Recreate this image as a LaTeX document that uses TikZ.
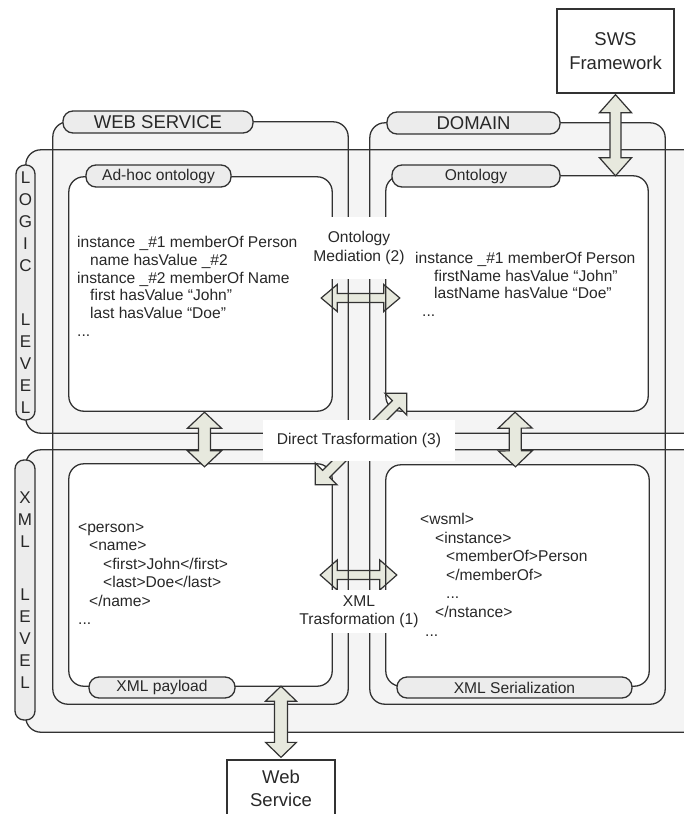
\documentclass[tikz,border=0pt]{standalone}
\usepackage{fontspec}
\setmainfont{Liberation Sans}
\usetikzlibrary{calc,positioning}
\definecolor{linegray}{RGB}{50,50,50}
\definecolor{bandfill}{RGB}{244,244,244}
\definecolor{tabfill}{RGB}{236,236,236}
\definecolor{arrowfill}{RGB}{231,233,222}
\definecolor{txtgray}{RGB}{40,40,40}
\tikzstyle{zone} = [rectangle, rounded corners=15, fill=bandfill, inner sep=0]
\tikzstyle{panel} = [rectangle, rounded corners=15, fill=white, inner sep=0]
\tikzstyle{rim} = [draw=linegray, line width=1.3pt, rounded corners=15]
\tikzstyle{tabbox} = [rectangle, rounded corners=10, draw=linegray, line width=1.3pt, fill=tabfill, inner sep=0, text=txtgray, font=\fontsize{15.6}{18}\selectfont]
\tikzstyle{bigtab} = [tabbox, font=\fontsize{18.5}{22}\selectfont]
\tikzstyle{lvltab} = [tabbox, rounded corners=9, align=center, font=\fontsize{17}{22}\selectfont]
\tikzstyle{ext} = [rectangle, draw=linegray, line width=1.3pt, fill=white, inner sep=0, align=center, text=txtgray, font=\fontsize{18.5}{24}\selectfont]
\tikzstyle{codetext} = [anchor=north west, inner sep=0, align=left, text=txtgray]
\tikzstyle{midtext} = [fill=white, inner sep=0, align=center, text=txtgray, font=\fontsize{15.6}{18.5}\selectfont]
\tikzstyle{blockarrow} = [draw=linegray, line width=1.2pt, fill=arrowfill, line join=miter]
% double block arrow: from, to, head length, head half width, shaft half width
\newcommand{\dblarrow}[5]{%
  \coordinate (ha) at ($(#1)!#3!(#2)$);
  \coordinate (hb) at ($(#2)!#3!(#1)$);
  \filldraw[blockarrow] (#1) -- ($(ha)!#4!90:(#2)$) -- ($(ha)!#5!90:(#2)$)
    -- ($(hb)!#5!-90:(#1)$) -- ($(hb)!#4!-90:(#1)$) -- (#2)
    -- ($(hb)!#4!90:(#1)$) -- ($(hb)!#5!90:(#1)$)
    -- ($(ha)!#5!-90:(#2)$) -- ($(ha)!#4!-90:(#2)$) -- cycle;}
% single block arrow: tail, tip, head length, head half width, shaft half width
\newcommand{\onearrow}[5]{%
  \coordinate (hc) at ($(#2)!#3!(#1)$);
  \filldraw[blockarrow] (#2) -- ($(hc)!#4!90:(#1)$) -- ($(hc)!#5!90:(#1)$)
    -- ($(#1)!#5!-90:(#2)$) -- ($(#1)!#5!90:(#2)$)
    -- ($(hc)!#5!-90:(#1)$) -- ($(hc)!#4!-90:(#1)$) -- cycle;}

\begin{document}
\begin{tikzpicture}[x=1pt,y=-1pt]
\useasboundingbox (0,0) rectangle (683,814);
% backgrounds
\draw (363,291.5) node (logic) [zone, minimum width=674, minimum height=283] {};
\draw (363,591) node (xmllvl) [zone, minimum width=674, minimum height=282] {};
\draw (200.5,413) node (ws) [zone, minimum width=295, minimum height=582] {};
\draw (517.5,413.5) node (dom) [zone, minimum width=295, minimum height=581] {};
\draw (200.5,294) node (adhoc) [panel, minimum width=263, minimum height=234] {};
\draw (517,293.5) node (onto) [panel, minimum width=262, minimum height=235] {};
\draw (200.5,575) node (payload) [panel, minimum width=263, minimum height=222] {};
\draw (517.5,575.5) node (serial) [panel, minimum width=263, minimum height=221] {};
\draw (615.5,51) node (sws) [ext, minimum width=117, minimum height=84] {SWS\\Framework};
\draw (281,788) node (websvc) [ext, font=\fontsize{18.5}{23}\selectfont, minimum width=108, minimum height=56] {Web\\Service};
% horizontal arrows (under the frames)
\coordinate (medL) at ($(adhoc.east)+(-11,4)$);
\coordinate (medR) at ($(onto.west)+(14,4.5)$);
\dblarrow{medL}{medR}{16pt}{13.5pt}{4.5pt}
\coordinate (xmlL) at ($(payload.east)+(-12,0)$);
\coordinate (xmlR) at ($(serial.west)+(11,-0.5)$);
\dblarrow{xmlL}{xmlR}{17pt}{15pt}{4.5pt}
% frames
\draw[rim] (logic.north west) rectangle (logic.south east);
\draw[rim] (xmllvl.north west) rectangle (xmllvl.south east);
\draw[rim] (ws.north west) rectangle (ws.south east);
\draw[rim] (dom.north west) rectangle (dom.south east);
\draw[rim] (adhoc.north west) rectangle (adhoc.south east);
\draw[rim] (onto.north west) rectangle (onto.south east);
\draw[rim] (payload.north west) rectangle (payload.south east);
\draw[rim] (serial.north west) rectangle (serial.south east);
% vertical arrows
\coordinate (swsA) at ($(sws.south)+(0,1)$);
\coordinate (swsB) at (sws.south |- onto.north);
\dblarrow{swsA}{swsB}{18pt}{16pt}{5.5pt}
\coordinate (lgA) at ($(adhoc.south)+(4,1)$);
\coordinate (lgB) at ($(payload.north)+(4,3)$);
\dblarrow{lgA}{lgB}{16pt}{17pt}{6pt}
\coordinate (rgA) at ($(onto.south)+(-2,1)$);
\coordinate (rgB) at ($(serial.north)+(-2,2)$);
\dblarrow{rgA}{rgB}{16pt}{17pt}{6pt}
\coordinate (wsA) at (websvc.north |- payload.south);
\coordinate (wsB) at ($(websvc.north)+(0,-2)$);
\dblarrow{wsA}{wsB}{15pt}{15.5pt}{6.5pt}
% direct transformation arrows
\draw (359,440.5) coordinate (dirmid);
\coordinate (urTip) at ($(onto.south west)+(21,-18)$);
\coordinate (urTail) at ($(dirmid)+(8,-7.5)$);
\onearrow{urTail}{urTip}{15.5pt}{15.5pt}{5pt}
\coordinate (dlTip) at ($(payload.north east)+(-17,21)$);
\coordinate (dlTail) at ($(dirmid)+(-4,4.5)$);
\onearrow{dlTail}{dlTip}{15.5pt}{15.5pt}{5pt}
% tabs
\draw (158,122) node (wstab) [bigtab, minimum width=190, minimum height=22] {WEB SERVICE};
\draw (473.5,123) node (domtab) [bigtab, minimum width=173, minimum height=22] {DOMAIN};
\draw (158.5,176) node (adhoctab) [tabbox, minimum width=145, minimum height=22] {Ad-hoc ontology};
\draw (476,176) node (ontotab) [tabbox, minimum width=168, minimum height=22] {Ontology};
\draw (162,687.5) node (paytab) [tabbox, minimum width=146, minimum height=21] {XML payload};
\draw (514.5,687.5) node (sertab) [tabbox, minimum width=235, minimum height=21] {XML Serialization};
\draw (25.5,292.5) node (logictab) [lvltab, minimum width=19, minimum height=255] {L\\O\\G\\I\\C\\[32pt]L\\E\\V\\E\\L};
\draw (25,590) node (xmltab) [lvltab, minimum width=20, minimum height=260] {X\\M\\L\\[31pt]L\\E\\V\\E\\L};
% contents
\draw (77,236) node (adhoctxt) [codetext, font=\fontsize{15.6}{17.8}\selectfont] {instance \_\#1 memberOf Person\\\hspace*{13pt}name hasValue \_\#2\\instance \_\#2 memberOf Name\\\hspace*{13pt}first hasValue “John”\\\hspace*{13pt}last hasValue “Doe”\\...};
\draw (415,252) node (ontotxt) [codetext, font=\fontsize{15.6}{17.5}\selectfont] {instance \_\#1 memberOf Person\\\hspace*{19pt}firstName hasValue “John”\\\hspace*{19pt}lastName hasValue “Doe”\\\hspace*{7pt}...};
\draw (78,523) node (paytxt) [codetext, font=\fontsize{15.6}{18.5}\selectfont] {<person>\\\hspace*{11pt}<name>\\\hspace*{25pt}<first>John</first>\\\hspace*{25pt}<last>Doe</last>\\\hspace*{11pt}</name>\\...};
\draw (420,513) node (sertxt) [codetext, font=\fontsize{15.6}{18.6}\selectfont] {<wsml>\\\hspace*{15pt}<instance>\\\hspace*{26pt}<memberOf>Person\\\hspace*{26pt}</memberOf>\\\hspace*{26pt}...\\\hspace*{15pt}</nstance>\\\hspace*{5pt}...};
% mapping labels
\draw (359,248) node (medtxt) [midtext, font=\fontsize{15.6}{19}\selectfont, minimum width=96, minimum height=62] {Ontology\\Mediation (2)};
\draw (dirmid) node (dirtxt) [midtext, minimum width=192, minimum height=41] {Direct Trasformation (3)};
\draw (359,611.5) node (xmltxt) [midtext, minimum width=126, minimum height=43] {XML\\Trasformation (1)};
\end{tikzpicture}
\end{document}
